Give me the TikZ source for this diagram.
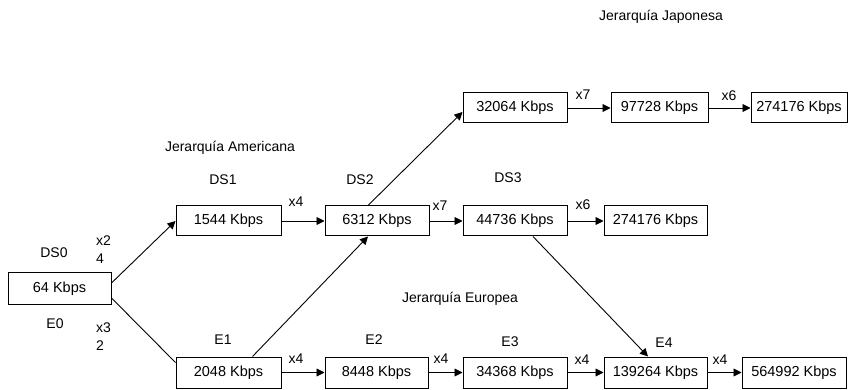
\documentclass[tikz,border=0pt]{standalone}
\usepackage{fontspec}
\setmainfont{Liberation Sans}
\usetikzlibrary{arrows.meta,calc}
\newcommand\ratefont{\fontsize{14.5}{16}\selectfont}
\newcommand\labelfont{\fontsize{14}{16}\selectfont}
\begin{document}
\begin{tikzpicture}[x=1pt,y=-1pt,
  rate/.style={draw, line width=1pt, minimum height=30pt, inner sep=0pt, font=\ratefont},
  tag/.style={inner sep=0pt, font=\labelfont},
  mult/.style={inner sep=0pt, font=\labelfont},
  link/.style={line width=0.9pt},
  feed/.style={line width=0.9pt, -{Triangle[length=8pt,width=8pt]}}]
\useasboundingbox (0,0) rectangle (849,390);

% Rate boxes: American row
\node[rate, minimum width=103pt, minimum height=31pt] (d0) at (59.5,288.5) {64 Kbps};
\node[rate, minimum width=105pt] (d1) at (228.5,221) {1544 Kbps};
\node[rate, minimum width=104pt] (d2) at (377,221) {6312 Kbps};
\node[rate, minimum width=104pt] (d3) at (515,221) {44736 Kbps};
\node[rate, minimum width=103pt] (d4) at (655.5,221) {274176 Kbps};
% Japanese row
\node[rate, minimum width=104pt] (j1) at (515,108) {32064 Kbps};
\node[rate, minimum width=97pt] (j2) at (659.5,108) {97728 Kbps};
\node[rate, minimum width=96pt] (j3) at (799,108) {274176 Kbps};
% European row
\node[rate, minimum width=105pt, minimum height=31pt] (e1) at (228.5,372.5) {2048 Kbps};
\node[rate, minimum width=103pt, minimum height=31pt] (e2) at (376.5,372.5) {8448 Kbps};
\node[rate, minimum width=104pt, minimum height=31pt] (e3) at (515,372.5) {34368 Kbps};
\node[rate, minimum width=103pt, minimum height=31pt] (e4) at (655.5,372.5) {139264 Kbps};
\node[rate, minimum width=104pt, minimum height=31pt] (e5) at (794,372.5) {564992 Kbps};

% Hierarchy titles
\node[tag] (tj) at (661,17) {Jerarquía Japonesa};
\node[tag] (ta) at (230,148) {Jerarquía Americana};
\node[tag] (te) at (460,299) {Jerarquía Europea};

% Level names
\node[tag] (lds0) at (54,253) {DS0};
\node[tag] (lds1) at (223,180) {DS1};
\node[tag] (lds2) at (360,180) {DS2};
\node[tag] (lds3) at (508,178) {DS3};
\node[tag] (le0) at (55,324) {E0};
\node[tag] (le1) at (223,340) {E1};
\node[tag] (le2) at (374,340) {E2};
\node[tag] (le3) at (510,342) {E3};
\node[tag] (le4) at (664,343) {E4};

% Multiplexing factors
\node[mult, anchor=west] (m24a) at (96,241) {x2};
\node[mult, anchor=west] (m24b) at (96,259) {4};
\node[mult, anchor=west] (m32a) at (96,328) {x3};
\node[mult, anchor=west] (m32b) at (96,346) {2};
\node[mult] (md12) at (296,202) {x4};
\node[mult] (md23) at (440,206) {x7};
\node[mult] (md34) at (583,205) {x6};
\node[mult] (mj12) at (583,95) {x7};
\node[mult] (mj23) at (729,96) {x6};
\node[mult] (me12) at (296,359) {x4};
\node[mult] (me23) at (441,359) {x4};
\node[mult] (me34) at (582,360) {x4};
\node[mult] (me45) at (720,360) {x4};

% Branches
\draw[feed] ($(d0.east)+(0,-5.5)$) -- (d1.west);
\draw[link] ($(d0.east)+(0,9.5)$) -- ($(e1.north west)+(0,6)$);
\draw[feed] ($(e1.north)+(24,0)$) -- ($(d2.south)+(-9,0)$);
\draw[feed] ($(d2.north)+(-9,0)$) -- ($(j1.west)+(0,4)$);
\draw[feed] ($(d3.south)+(18,0)$) -- ($(e4.north)+(-7.5,0)$);

% Chains
\draw[feed] (d1.east) -- (d2.west);
\draw[feed] (d2.east) -- (d3.west);
\draw[feed] (d3.east) -- (d4.west);
\draw[feed] (j1.east) -- (j2.west);
\draw[feed] (j2.east) -- (j3.west);
\draw[feed] (e1.east) -- (e2.west);
\draw[feed] (e2.east) -- (e3.west);
\draw[feed] (e3.east) -- (e4.west);
\draw[feed] (e4.east) -- (e5.west);
\end{tikzpicture}
\end{document}
